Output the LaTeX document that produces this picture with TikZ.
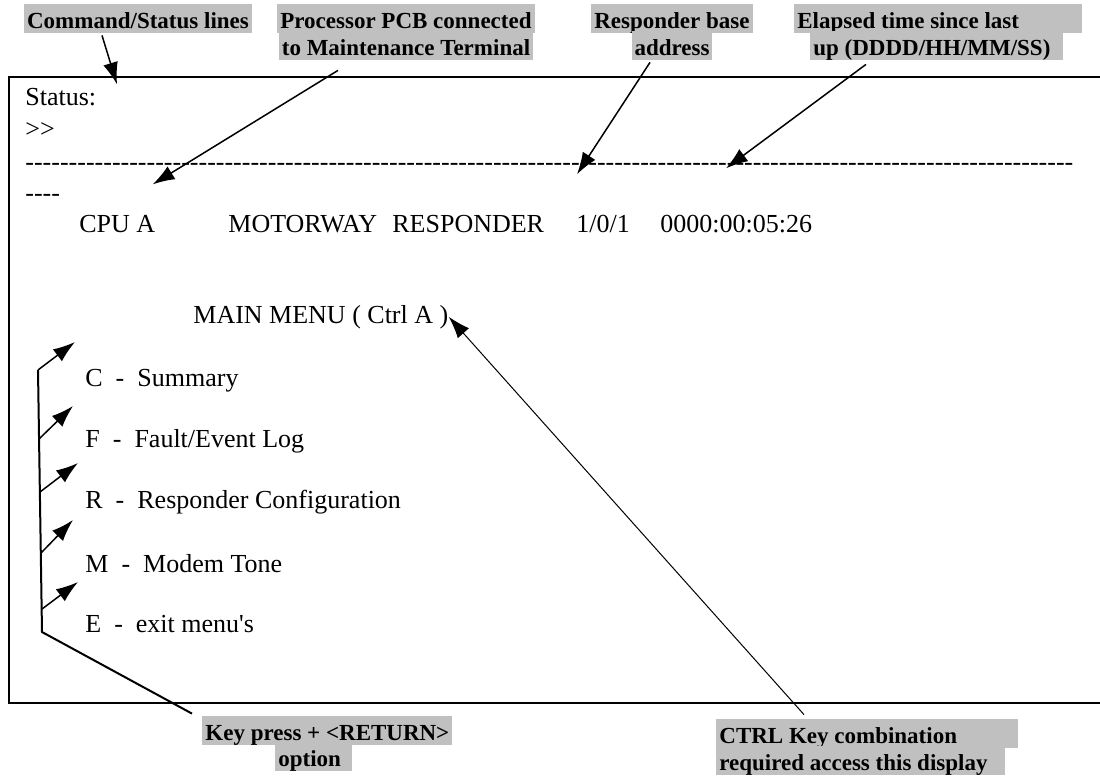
\documentclass[tikz,border=0pt]{standalone}
\usepackage{fontspec}
\setmainfont{Liberation Serif}
\usetikzlibrary{arrows.meta}
\definecolor{surligne}{RGB}{192,192,192}

\def\unit{0.5pt}

\begin{document}
\begin{tikzpicture}[x=\unit,y=-\unit]
\tikzstyle{ecran}=[anchor=base west,inner sep=0pt,font=\fontsize{13}{15}\selectfont]
\tikzstyle{legende}=[anchor=base,fill=surligne,inner xsep=1.5pt,inner ysep=0pt,text height=12pt,text depth=2.5pt,font=\fontsize{11.5}{13.5}\selectfont\bfseries]
\tikzstyle{fleche}=[-{Latex[length=11pt,width=7.5pt]},line width=0.75pt]
\tikzstyle{trait}=[line width=1pt]

\useasboundingbox (0,0) rectangle (1100,776);

\draw[line width=1.3pt] (1100,77) -- (9,77) -- (9,703) -- (1100,703);

\node[ecran] (status) at (25,105) {Status:};
\node[ecran] (prompt) at (25,137) {{>}{>}};
\node[ecran] (tirets) at (25,170) {\hbox to 524pt{\xleaders\hbox{-}\hfill}};
\node[ecran] (suite) at (25,201) {-{}-{}-{}-};

\node[ecran] (cpu) at (79,232) {CPU A};
\node[ecran] (motorway) at (228,232) {MOTORWAY};
\node[ecran] (responder) at (392,232) {RESPONDER};
\node[ecran] (adresse) at (576,232) {1/0/1};
\node[ecran] (duree) at (660,232) {0000:00:05:26};

\node[ecran] (menu) at (193,323) {MAIN MENU ( Ctrl A )};
\node[ecran] (optC) at (85,386) {C~~-~~Summary};
\node[ecran] (optF) at (85,447) {F~~-~~Fault/Event Log};
\node[ecran] (optR) at (85,508) {R~~-~~Responder Configuration};
\node[ecran] (optM) at (85,572) {M~~-~~Modem Tone};
\node[ecran] (optE) at (85,632) {E~~-~~exit menu\textquotesingle s};

\node[legende] (cmd) at (138,28) {Command/Status lines};
\node[legende] (pcbA) at (406,28) {Processor PCB connected};
\node[legende] (pcbB) at (406,55) {to Maintenance Terminal};
\node[legende] (respA) at (672,28) {Responder base};
\node[legende] (respB) at (672,55) {address};
\node[legende,anchor=base west] (elapA) at (794,28) {Elapsed time since last\hspace*{30pt}};
\node[legende,anchor=base west] (elapB) at (810,55) {up (DDDD/HH/MM/SS)\hspace*{5pt}};
\node[legende,anchor=base west] (keyA) at (202,740) {Key press + <RETURN>};
\node[legende,anchor=base west] (keyB) at (275,766) {option\hspace*{4pt}};
\node[legende,anchor=base west] (ctrlA) at (716,743) {CTRL Key combination\hspace*{29pt}};
\node[legende,anchor=base west] (ctrlB) at (716,770) {required access this display\hspace*{7pt}};

\draw[fleche] ([xshift=-18pt,yshift=-1pt]cmd.south) -- ([xshift=46pt,yshift=1.5pt]status.north west);
\draw[fleche] ([xshift=-34pt,yshift=-5pt]pcbB.south) -- ([xshift=-1.5pt,yshift=15pt]cpu.north east);
\draw[fleche] ([xshift=-11pt,yshift=-1pt]respB.south) -- ([xshift=0.5pt,yshift=20pt]adresse.north west);
\draw[fleche] ([xshift=28pt,yshift=-2pt]elapB.south west) -- ([xshift=33pt,yshift=23pt]duree.north west);
\draw[fleche,line width=0.5pt] ([xshift=44pt,yshift=2pt]ctrlA.north west) -- (menu.east);

\coordinate (coin) at (42,632);
\coordinate (haut) at (38,370);
\coordinate (b2) at (39,439);
\coordinate (b3) at (40,492);
\coordinate (b4) at (41,553);
\coordinate (b5) at (42,609);

\draw[trait] ([xshift=-5pt,yshift=1pt]keyA.north west) -- (coin) -- (haut);
\draw[fleche] (haut) -- ([xshift=-5pt,yshift=22pt]optC.base west);
\draw[fleche] (b2) -- ([xshift=-6pt,yshift=20.5pt]optF.base west);
\draw[fleche] (b3) -- ([xshift=-3.5pt,yshift=22.5pt]optR.base west);
\draw[fleche] (b4) -- ([xshift=-6pt,yshift=26pt]optM.base west);
\draw[fleche] (b5) -- ([xshift=-3.5pt,yshift=25pt]optE.base west);

\end{tikzpicture}
\end{document}
